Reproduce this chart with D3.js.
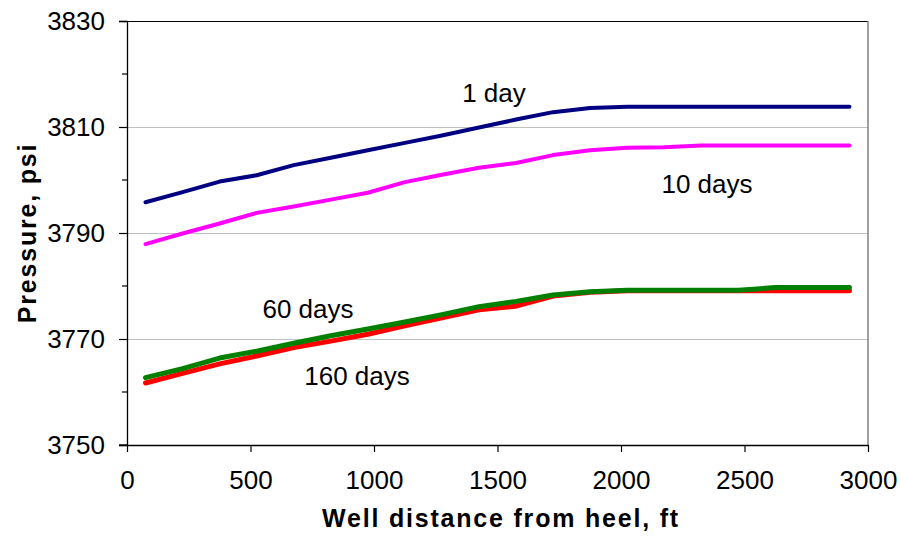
<!DOCTYPE html>
<html>
<head>
<meta charset="utf-8">
<script src="https://cdn.jsdelivr.net/npm/d3@7"></script>
<style>
  html, body { margin: 0; padding: 0; background: #fff; }
  svg { display: block; font-family: "Liberation Sans", Arial, sans-serif; }
</style>
</head>
<body>
<svg id="chart" width="901" height="537"></svg>
<script>
// ---- data ----
const distances = [75, 225, 375, 525, 675, 825, 975, 1125, 1275, 1425, 1575, 1725, 1875, 2025, 2175, 2325, 2475, 2625, 2775, 2925];
const day1   = [3795.8, 3797.7, 3799.7, 3800.9, 3802.8, 3804.2, 3805.6, 3807.0, 3808.4, 3809.9, 3811.4, 3812.8, 3813.6, 3813.8, 3813.8, 3813.8, 3813.8, 3813.8, 3813.8, 3813.8];
const day10  = [3787.9, 3789.9, 3791.8, 3793.8, 3795.0, 3796.3, 3797.6, 3799.6, 3801.0, 3802.3, 3803.2, 3804.7, 3805.6, 3806.1, 3806.2, 3806.5, 3806.5, 3806.5, 3806.5, 3806.5];
const day160 = [3761.7, 3763.5, 3765.3, 3766.8, 3768.4, 3769.6, 3770.9, 3772.5, 3774.0, 3775.5, 3776.2, 3778.1, 3778.8, 3779.1, 3779.1, 3779.1, 3779.1, 3779.1, 3779.1, 3779.1];
const day60  = [3762.7, 3764.4, 3766.4, 3767.7, 3769.2, 3770.6, 3771.9, 3773.2, 3774.6, 3776.1, 3777.1, 3778.3, 3778.9, 3779.2, 3779.2, 3779.2, 3779.2, 3779.7, 3779.7, 3779.7];
const seriesNames = ["1 day", "10 days", "160 days", "60 days"];
const xTicks = [0, 500, 1000, 1500, 2000, 2500, 3000];
const yTicks = [3750, 3770, 3790, 3810, 3830];
const yMinorTicks = [3760, 3780, 3800, 3820];

// ---- layout ----
const svg = d3.select("#chart");
const x = d3.scaleLinear().domain([0, 3000]).range([127, 868]);
const y = d3.scaleLinear().domain([3750, 3830]).range([445, 21]);

// gridlines
svg.append("g").selectAll("line").data([3770, 3790, 3810]).join("line")
  .attr("x1", x(0)).attr("x2", x(3000))
  .attr("y1", d => y(d)).attr("y2", d => y(d))
  .attr("stroke", "#c0c0c0").attr("stroke-width", 1).attr("shape-rendering", "crispEdges");

// plot border (top + right)
svg.append("line").attr("x1", x(0)).attr("x2", x(3000)).attr("y1", y(3830)).attr("y2", y(3830))
  .attr("stroke", "#000").attr("stroke-width", 1).attr("shape-rendering", "crispEdges");
svg.append("line").attr("x1", x(3000)).attr("x2", x(3000)).attr("y1", y(3830)).attr("y2", y(3750))
  .attr("stroke", "#808080").attr("stroke-width", 1.5);

// y axis
const yAxis = d3.axisLeft(y).tickValues(yTicks).tickSize(8).tickPadding(14).tickFormat(d3.format("d"));
const gy = svg.append("g").attr("transform", `translate(${x(0)},0)`).call(yAxis);
gy.select(".domain").attr("stroke", "#000").attr("stroke-width", 1.3);
gy.selectAll(".tick line").attr("stroke", "#000").attr("stroke-width", 1.2);
gy.selectAll(".tick text").attr("font-size", 26).attr("fill", "#000")
  .attr("font-family", "'Liberation Sans', Arial, sans-serif");
svg.append("g").selectAll("line").data(yMinorTicks).join("line")
  .attr("x1", x(0) - 5).attr("x2", x(0))
  .attr("y1", d => y(d)).attr("y2", d => y(d))
  .attr("stroke", "#000").attr("stroke-width", 1.2);

// x axis
const xAxis = d3.axisBottom(x).tickValues(xTicks).tickSize(7).tickPadding(19).tickSizeOuter(0).tickFormat(d3.format("d"));
const gx = svg.append("g").attr("transform", `translate(0,${y(3750)})`).call(xAxis);
gx.select(".domain").attr("stroke", "#000").attr("stroke-width", 1.3);
gx.selectAll(".tick line").attr("stroke", "#000").attr("stroke-width", 1.2);
gx.selectAll(".tick text").attr("font-size", 26).attr("fill", "#000")
  .attr("font-family", "'Liberation Sans', Arial, sans-serif");
// extend x axis line left to the y tick
svg.append("line").attr("x1", x(0) - 8).attr("x2", x(0)).attr("y1", y(3750)).attr("y2", y(3750))
  .attr("stroke", "#000").attr("stroke-width", 1.3);

// series lines
const line = d3.line().x(d => x(d[0])).y(d => y(d[1])).curve(d3.curveLinear);
const series = [
  { name: seriesNames[0], values: day1,   color: "#000080", width: 4 },
  { name: seriesNames[1], values: day10,  color: "#ff00ff", width: 4 },
  { name: seriesNames[2], values: day160, color: "#ff0000", width: 5 },
  { name: seriesNames[3], values: day60,  color: "#008000", width: 5 }
];
svg.append("g").selectAll("path").data(series).join("path")
  .attr("d", s => line(distances.map((d, i) => [d, s.values[i]])))
  .attr("fill", "none")
  .attr("stroke", s => s.color)
  .attr("stroke-width", s => s.width)
  .attr("stroke-linejoin", "round")
  .attr("stroke-linecap", "round");

// series labels
const labels = [
  { text: seriesNames[0], cx: 494, by: 102 },
  { text: seriesNames[1], cx: 707, by: 193 },
  { text: seriesNames[3], cx: 308, by: 318 },
  { text: seriesNames[2], cx: 357, by: 385 }
];
svg.append("g").selectAll("text").data(labels).join("text")
  .attr("x", d => d.cx).attr("y", d => d.by)
  .attr("text-anchor", "middle")
  .attr("font-size", 26).attr("fill", "#000")
  .text(d => d.text);

// axis titles
svg.append("text").attr("x", 501).attr("y", 527).attr("text-anchor", "middle")
  .attr("font-size", 25).attr("font-weight", "bold").attr("fill", "#000")
  .attr("letter-spacing", 1.8)
  .text("Well distance from heel, ft");
svg.append("text").attr("transform", "translate(36,233) rotate(-90)").attr("text-anchor", "middle")
  .attr("font-size", 25).attr("font-weight", "bold").attr("fill", "#000")
  .attr("letter-spacing", 1.8)
  .text("Pressure, psi");
</script>
</body>
</html>
